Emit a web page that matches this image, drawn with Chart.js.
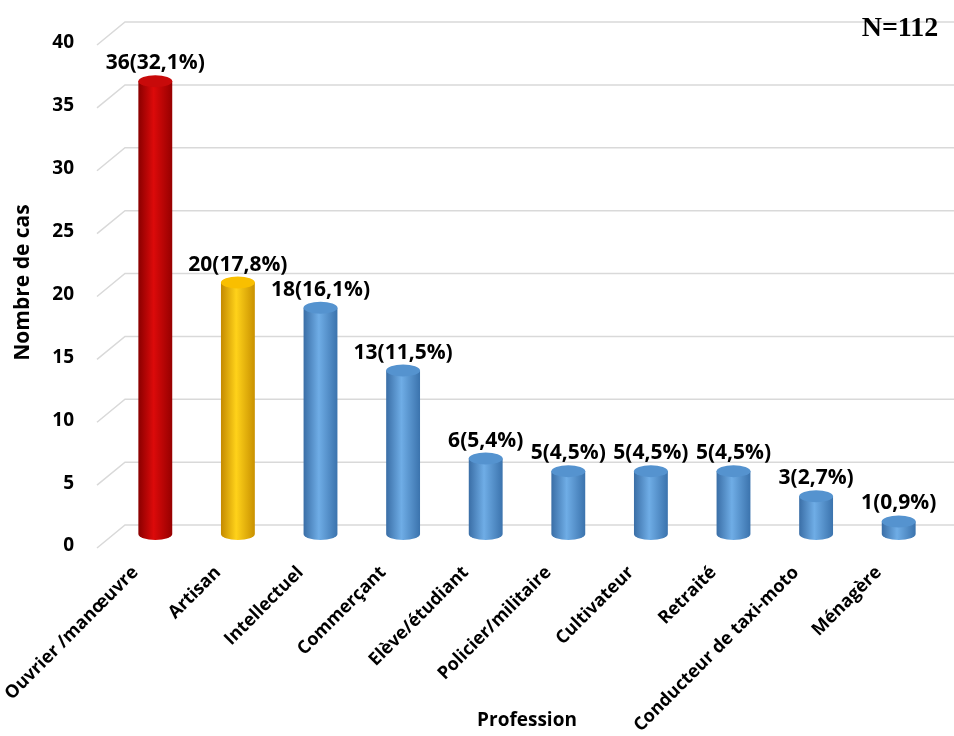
<!DOCTYPE html>
<html>
<head>
<meta charset="UTF-8">
<title>Profession</title>
<script src="https://cdn.jsdelivr.net/npm/chart.js@4.4.1/dist/chart.umd.min.js"></script>
<style>
  html, body { margin: 0; padding: 0; background: #fff; }
  #wrap { width: 954px; height: 736px; }
</style>
</head>
<body>
<div id="wrap"><canvas id="chart" width="954" height="736"></canvas></div>
<script>
const professions = ["Ouvrier /manœuvre", "Artisan", "Intellectuel", "Commerçant", "Elève/étudiant",
  "Policier/militaire", "Cultivateur", "Retraité", "Conducteur de taxi-moto", "Ménagère"];
const cases = [36, 20, 18, 13, 6, 5, 5, 5, 3, 1];
const percents = ["32,1%", "17,8%", "16,1%", "11,5%", "5,4%", "4,5%", "4,5%", "4,5%", "2,7%", "0,9%"];
const yTicks = [0, 5, 10, 15, 20, 25, 30, 35, 40];
const total = "N=112";

// colours: [edge, middle, other edge, top]
const red = ["#8a0000", "#dc0a0a", "#960000", "#c80a0a"];
const yellow = ["#c48a00", "#ffd21a", "#c99100", "#f9bf00"];
const blue = ["#3a6ea6", "#6fadE6", "#3b73ad", "#5593cf"];
const barColors = [red, yellow, blue, blue, blue, blue, blue, blue, blue, blue];

const FONT = "'Open Sans', sans-serif";

const cylinders = {
  id: "cylinders",
  beforeDatasetsDraw(chart) {
    const ctx = chart.ctx, y = chart.scales.y;
    ctx.save();
    ctx.strokeStyle = "#d9d9d9";
    ctx.lineWidth = 1.5;
    yTicks.forEach(v => {
      const py = y.getPixelForValue(v);
      ctx.beginPath();
      ctx.moveTo(97, py + 14);
      ctx.lineTo(125, py - 9);
      ctx.lineTo(954, py - 9);
      ctx.stroke();
    });
    ctx.restore();
  },
  afterDatasetsDraw(chart) {
    const ctx = chart.ctx;
    const meta = chart.getDatasetMeta(0);
    ctx.save();
    meta.data.forEach((bar, i) => {
      const c = barColors[i];
      const w = bar.width, rx = w / 2, ry = 6;
      const x0 = bar.x - rx;
      const g = ctx.createLinearGradient(x0, 0, x0 + w, 0);
      g.addColorStop(0, c[0]);
      g.addColorStop(0.45, c[1]);
      g.addColorStop(1, c[2]);
      ctx.fillStyle = g;
      ctx.beginPath();
      ctx.moveTo(x0, bar.y);
      ctx.lineTo(x0, bar.base);
      ctx.ellipse(bar.x, bar.base, rx, ry, 0, Math.PI, 0, true);
      ctx.lineTo(x0 + w, bar.y);
      ctx.closePath();
      ctx.fill();
      ctx.fillStyle = c[3];
      ctx.beginPath();
      ctx.ellipse(bar.x, bar.y, rx, ry, 0, 0, Math.PI * 2);
      ctx.fill();
      ctx.fillStyle = "#000";
      ctx.font = "bold 21px " + FONT;
      ctx.textAlign = "center";
      ctx.textBaseline = "alphabetic";
      ctx.fillText(cases[i] + "(" + percents[i] + ")", bar.x, bar.y - 12);
    });
    ctx.font = "bold 28px 'Liberation Serif', serif";
    ctx.textAlign = "center";
    ctx.fillText(total, 900, 36);
    ctx.restore();
  }
};

new Chart(document.getElementById("chart"), {
  type: "bar",
  data: {
    labels: professions,
    datasets: [{
      data: cases,
      backgroundColor: "rgba(0,0,0,0)",
      borderWidth: 0,
      barPercentage: 0.41,
      categoryPercentage: 1
    }]
  },
  options: {
    responsive: false,
    animation: false,
    layout: { padding: { top: 31, right: 14, left: 0, bottom: 0 } },
    plugins: { legend: { display: false }, tooltip: { enabled: false } },
    scales: {
      x: {
        grid: { display: false, drawTicks: false },
        border: { display: false },
        ticks: {
          color: "#000",
          font: { family: FONT, size: 18, weight: "bold" },
          minRotation: 45, maxRotation: 45,
          padding: 28,
          labelOffset: -20
        },
        title: {
          display: true, text: "Profession", color: "#000",
          font: { family: FONT, size: 19, weight: "bold" }
        },
        afterFit: s => { s.height = 202; s.paddingLeft = 0; s.paddingRight = 0; }
      },
      y: {
        min: 0, max: 40,
        afterBuildTicks: s => { s.ticks = yTicks.map(v => ({ value: v })); },
        grid: { display: false, drawTicks: false },
        border: { display: false },
        ticks: {
          color: "#000",
          font: { family: FONT, size: 19, weight: "bold" },
          padding: 40,
          labelOffset: 12
        },
        title: {
          display: true, text: "Nombre de cas", color: "#000",
          font: { family: FONT, size: 21, weight: "bold" },
          padding: { top: 10, bottom: 4 }
        },
        afterFit: s => { s.width = 114; s.paddingTop = 0; s.paddingBottom = 0; }
      }
    }
  },
  plugins: [cylinders]
});
</script>
</body>
</html>
